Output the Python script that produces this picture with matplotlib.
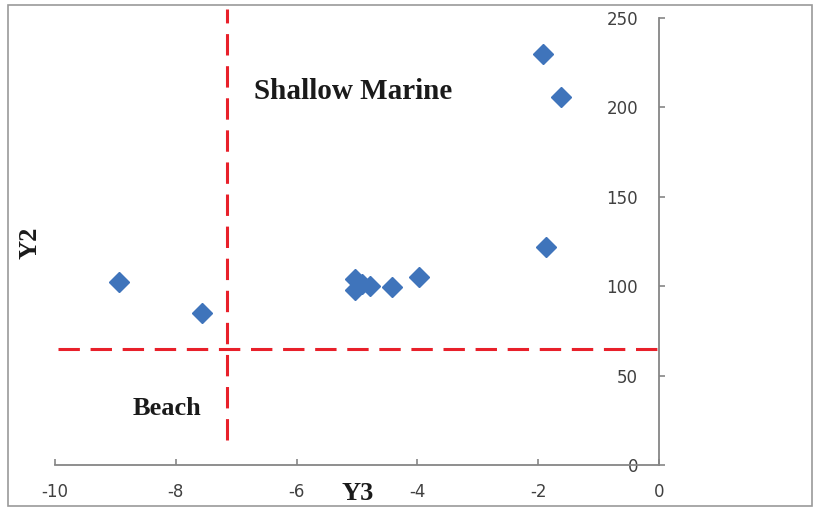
import matplotlib.pyplot as plt
from matplotlib.patches import Rectangle

plt.rcParams['axes.unicode_minus'] = False

# sample scores
y3 = [-8.94, -7.57, -5.03, -5.03, -4.92, -4.78, -4.42, -3.98, -1.92, -1.62, -1.87]
y2 = [102.5, 85, 104, 98, 101, 100, 99.5, 105, 230, 206, 122]

# boundary lines between the fields
y3_limit = -7.15
y2_limit = 65

fig = plt.figure(figsize=(8.14, 5.08), dpi=100)
fig.patches.append(Rectangle((0.0098, 0.004), 0.9877, 0.986, transform=fig.transFigure,
                             fill=False, edgecolor='#9a9a9a', linewidth=1.2))
ax = fig.add_axes([0.0676, 0.0846, 0.742, 0.88])

ax.plot(y3, y2, linestyle='', marker='D', markersize=10, color='#3f74bb', zorder=3)

ax.plot([y3_limit, y3_limit], [14, 255], color='#e8202a', linewidth=2.2,
        dashes=(7, 3.5), clip_on=False)
ax.plot([-9.95, 0.13], [y2_limit, y2_limit], color='#e8202a', linewidth=2.2,
        dashes=(7, 3.5), clip_on=False)

ax.set_xlim(-10, 0)
ax.set_ylim(0, 250)
ax.set_xticks([-10, -8, -6, -4, -2, 0])
ax.set_yticks([0, 50, 100, 150, 200, 250])

ax.spines['top'].set_visible(False)
ax.spines['right'].set_visible(False)
ax.spines['left'].set_position(('data', 0))
ax.spines['left'].set_color('#868686')
ax.spines['bottom'].set_color('#868686')
ax.spines['left'].set_linewidth(1.3)
ax.spines['bottom'].set_linewidth(1.3)
ax.tick_params(direction='in', length=4, width=1.2, color='#868686', labelsize=12,
               labelcolor='#404040', labelfontfamily='DejaVu Sans')
ax.tick_params(axis='y', pad=15)
ax.tick_params(axis='x', pad=13)
ax.patch.set_visible(False)

serif = dict(family='Liberation Serif', fontweight='bold', color='#1a1a1a')
ax.text(-5.06, 204.7, 'Shallow Marine', fontsize=21, ha='center', va='baseline', **serif)
ax.text(-8.15, 28, 'Beach', fontsize=19, ha='center', va='baseline', **serif)
fig.text(357.5 / 814, 1 - 500 / 508, 'Y3', fontsize=19, ha='center', va='baseline', **serif)
fig.text(30 / 814, 1 - 243 / 508, 'Y2', fontsize=19, ha='center', va='center',
         rotation=90, **serif)

plt.savefig('out.png')
